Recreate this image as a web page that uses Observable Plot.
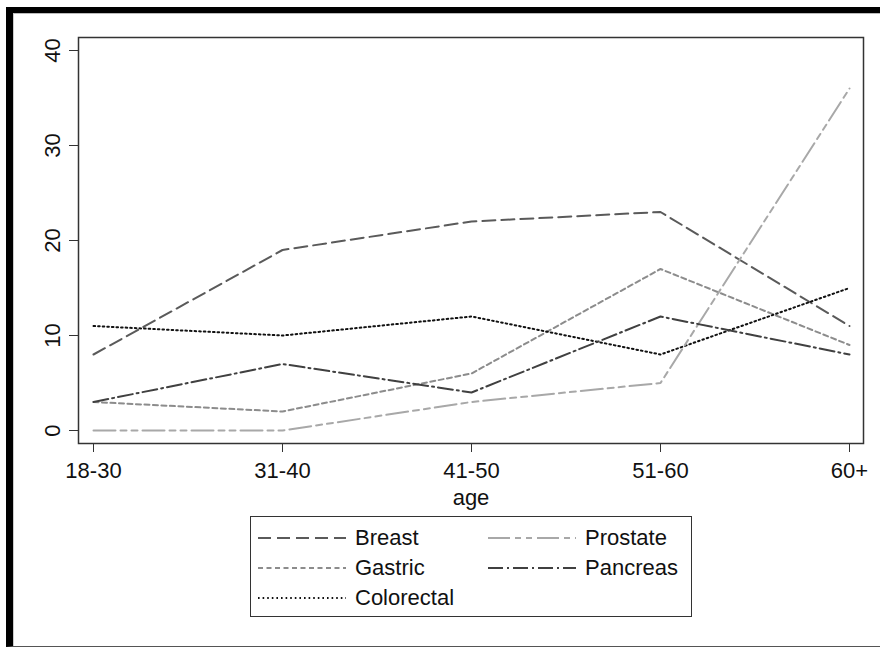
<!DOCTYPE html>
<html>
<head>
<meta charset="utf-8">
<script src="https://cdn.jsdelivr.net/npm/d3@7"></script>
<script src="https://cdn.jsdelivr.net/npm/@observablehq/plot@0.6"></script>
<style>
  html, body { margin: 0; padding: 0; background: #fff; }
  body { width: 880px; height: 649px; position: relative; overflow: hidden; font-family: "Liberation Sans", Arial, sans-serif; }
  #frame { position: absolute; left: 6px; top: 7px; width: 874px; height: 640px; box-sizing: border-box;
           border-top: 6px solid #000; border-left: 7px solid #000; border-bottom: 1px solid #555; }
  #inner { position: absolute; left: 0; top: 0; right: 0; bottom: 0; border-top: 1px solid #bbb; border-left: 1px solid #ccc; }
  #chart { position: absolute; left: 0; top: 0; }
  #chart svg { overflow: visible; }
  #legend { position: absolute; left: 250px; top: 516px; width: 442px; height: 101px; box-sizing: border-box; border: 1px solid #333; background: #fff; }
  .item { position: absolute; height: 30px; display: flex; align-items: center; font-size: 22px; color: #111; }
  .item svg { margin-right: 9px; }
</style>
</head>
<body>
<div id="frame"><div id="inner"></div></div>
<div id="chart"></div>
<div id="legend"></div>
<script>
// ---- data ----
const ages = ["18-30", "31-40", "41-50", "51-60", "60+"];
const breast = [8, 19, 22, 23, 11];
const gastric = [3, 2, 6, 17, 9];
const colorectal = [11, 10, 12, 8, 15];
const prostate = [0, 0, 3, 5, 36];
const pancreas = [3, 7, 4, 12, 8];
const seriesNames = ["Breast", "Gastric", "Colorectal", "Prostate", "Pancreas"];
const yTicks = [0, 10, 20, 30, 40];
const xLabel = "age";

// ---- styles ----
const seriesValues = [breast, gastric, colorectal, prostate, pancreas];
const styles = {
  Breast:     { stroke: "#5a5a5a", dash: "13,6" },
  Gastric:    { stroke: "#8c8c8c", dash: "5,3.5" },
  Colorectal: { stroke: "#111111", dash: "1.6,3" },
  Prostate:   { stroke: "#a8a8a8", dash: "22,5,6,5,6,5" },
  Pancreas:   { stroke: "#404040", dash: "15,4,2,4" }
};

const marks = [];
seriesNames.forEach((name, i) => {
  const rows = ages.map((a, j) => ({ age: a, value: seriesValues[i][j] }));
  marks.push(Plot.line(rows, {
    x: "age", y: "value",
    stroke: styles[name].stroke,
    strokeDasharray: styles[name].dash,
    strokeWidth: 2
  }));
});

const chart = Plot.plot({
  width: 880,
  height: 515,
  marginLeft: 78,
  marginRight: 17,
  marginTop: 37,
  marginBottom: 72,
  style: { fontFamily: "'Liberation Sans', Arial, sans-serif", fontSize: "22px", color: "#111", background: "transparent", overflow: "visible" },
  x: { type: "point", domain: ages, padding: 0, inset: 13.5 },
  y: { domain: [0, 40], insetTop: 13, insetBottom: 13 },
  marks: [
    ...marks,
    Plot.frame({ stroke: "#333", strokeWidth: 1.5 }),
    Plot.axisX({ tickSize: 9, tickPadding: 10, fontSize: 22, label: xLabel, labelAnchor: "center", labelArrow: "none", labelOffset: 61, stroke: "#333" }),
    Plot.axisY({ ticks: yTicks, tickSize: 9, tickPadding: 10, tickRotate: -90, fontSize: 22, label: null, stroke: "#333" })
  ]
});
document.getElementById("chart").appendChild(chart);

// ---- legend ----
const legend = document.getElementById("legend");
const positions = {
  Breast: [7, 6], Gastric: [7, 36], Colorectal: [7, 66],
  Prostate: [237, 6], Pancreas: [237, 36]
};
seriesNames.forEach(name => {
  const [lx, ly] = positions[name];
  const div = document.createElement("div");
  div.className = "item";
  div.style.left = lx + "px";
  div.style.top = ly + "px";
  const ns = "http://www.w3.org/2000/svg";
  const svg = document.createElementNS(ns, "svg");
  svg.setAttribute("width", 88);
  svg.setAttribute("height", 10);
  const ln = document.createElementNS(ns, "line");
  ln.setAttribute("x1", 0); ln.setAttribute("x2", 88);
  ln.setAttribute("y1", 5); ln.setAttribute("y2", 5);
  ln.setAttribute("stroke", styles[name].stroke);
  ln.setAttribute("stroke-width", 2);
  ln.setAttribute("stroke-dasharray", styles[name].dash);
  svg.appendChild(ln);
  div.appendChild(svg);
  div.appendChild(document.createTextNode(name));
  legend.appendChild(div);
});
</script>
</body>
</html>
